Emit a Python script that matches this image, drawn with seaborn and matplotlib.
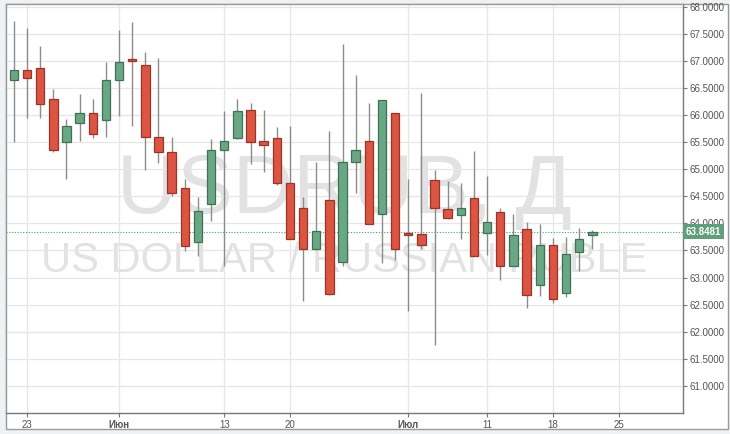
import matplotlib
matplotlib.use("Agg")
import matplotlib.pyplot as plt
import matplotlib.transforms as mtransforms
from matplotlib.patches import Rectangle
import numpy as np
import pandas as pd
import seaborn as sns

# USD/RUB daily candles, 20 May - 21 Jul 2016 (trading days)
dates = pd.bdate_range("2016-05-20", "2016-07-25")
opens = [66.64, 66.83, 66.87, 66.30, 65.51, 65.85, 66.03, 65.91, 66.65, 67.04,
         66.93, 65.59, 65.31, 64.66, 63.66, 64.35, 65.36, 65.57, 66.09, 65.52,
         65.57, 64.74, 64.29, 63.53, 64.44, 63.29, 65.14, 65.53, 64.18, 66.03,
         63.81, 63.80, 64.81, 64.27, 64.15, 64.47, 63.83, 64.21, 63.22, 63.89,
         62.86, 63.61, 62.72, 63.47, 63.78]
highs = [67.73, 67.60, 67.27, 66.49, 65.92, 66.39, 66.30, 66.98, 67.57, 67.71,
         67.17, 67.06, 65.60, 64.82, 64.49, 65.56, 66.07, 66.30, 66.22, 66.09,
         65.78, 65.80, 64.49, 65.13, 65.71, 67.32, 66.74, 66.22, 66.28, 66.04,
         64.82, 66.41, 64.99, 64.79, 64.74, 65.34, 64.87, 64.28, 64.18, 64.03,
         63.99, 63.73, 63.74, 63.92, 63.87]
lows = [65.50, 65.95, 65.95, 65.31, 64.82, 65.52, 65.58, 65.60, 65.99, 65.79,
        64.98, 65.11, 64.50, 63.49, 63.39, 64.04, 63.22, 65.55, 65.09, 64.95,
        64.70, 63.71, 62.56, 63.50, 62.68, 63.21, 64.57, 63.98, 63.27, 63.33,
        62.38, 63.53, 61.75, 64.09, 63.72, 63.40, 63.42, 62.95, 63.22, 62.44,
        62.66, 62.53, 62.64, 63.12, 63.53]
closes = [66.83, 66.69, 66.20, 65.35, 65.80, 66.03, 65.65, 66.65, 66.98, 67.00,
          65.59, 65.31, 64.56, 63.58, 64.23, 65.36, 65.53, 66.08, 65.50, 65.44,
          64.74, 63.72, 63.53, 63.86, 62.69, 65.14, 65.36, 63.99, 66.27, 63.52,
          63.79, 63.61, 64.28, 64.10, 64.29, 63.40, 64.03, 63.22, 63.78, 62.67,
          63.61, 62.61, 63.44, 63.72, 63.8481]
last_price = 63.8481

tick_dates = ["2016-05-23", "2016-06-01", "2016-06-13", "2016-06-20",
              "2016-07-01", "2016-07-11", "2016-07-18", "2016-07-25"]
tick_labels = ["23", "Июн", "13", "20", "Июл", "11", "18", "25"]
y_ticks = [61.0, 61.5, 62.0, 62.5, 63.0, 63.5, 64.0, 64.5, 65.0, 65.5,
           66.0, 66.5, 67.0, 67.5, 68.0]

df = pd.DataFrame({"date": dates[:len(opens)], "open": opens, "high": highs,
                   "low": lows, "close": closes})
df["pos"] = np.arange(len(df))
df["up"] = df["close"] >= df["open"]
df["bottom"] = df[["open", "close"]].min(axis=1)
df["height"] = (df["close"] - df["open"]).abs().clip(lower=0.03)

RED, RED_EDGE = "#dc5442", "#9c3327"
GREEN, GREEN_EDGE = "#6aa784", "#3b7353"

sns.set_theme(style="whitegrid")
plt.rcParams["font.family"] = ["Liberation Sans", "DejaVu Sans"]

fig = plt.figure(figsize=(7.3, 4.34), dpi=100, facecolor="#eef2f5")
W, H = 730, 434
frame = Rectangle((6 / W, 1 - 429 / H), 722 / W, 425 / H,
                  transform=fig.transFigure, facecolor="white",
                  edgecolor="#9a9a9a", lw=1.0, zorder=-10)
fig.patches.append(frame)
ax = fig.add_axes([6 / W, 1 - 413 / H, 677 / W, 409 / H])
ax.set_zorder(1)
ax.set_facecolor("white")

# watermark
ax.text(0.5, 0.49, "USDRUB, Д", transform=ax.transAxes, ha="center",
        va="baseline", fontsize=60, color="#e2e2e2", zorder=0)
ax.text(0.5, 0.345, "US DOLLAR / RUSSIAN RUBLE", transform=ax.transAxes,
        ha="center", va="baseline", fontsize=30, color="#e2e2e2", zorder=0)

# wicks
ax.vlines(df["pos"], df["low"], df["high"], color="#8c8c8c", lw=1.0, zorder=2)
# bodies
for up, fc, ec in [(True, GREEN, GREEN_EDGE), (False, RED, RED_EDGE)]:
    sub = df[df["up"] == up]
    ax.bar(sub["pos"], sub["height"], bottom=sub["bottom"], width=0.64,
           color=fc, edgecolor=ec, linewidth=0.9, zorder=3)

# last price line and label
ax.axhline(last_price, color="#4f9a70", lw=0.8, ls=(0, (1, 1.5)), zorder=1)
trans = mtransforms.blended_transform_factory(ax.transAxes, ax.transData)
ax.text(1.004, last_price, f"{last_price:.4f}", transform=trans, ha="left",
        va="center", fontsize=7, color="white", fontweight="bold", zorder=5,
        bbox=dict(boxstyle="square,pad=0.25", facecolor="#5f9f7b",
                  edgecolor="none"), clip_on=False)

all_pos = {d: i for i, d in enumerate(dates)}
tick_pos = [all_pos[pd.Timestamp(d)] for d in tick_dates]
ax.set_xticks(tick_pos)
ax.set_xticklabels(tick_labels)
for lbl, txt in zip(ax.get_xticklabels(), tick_labels):
    if not txt.isdigit():
        lbl.set_fontweight("bold")
ax.set_xlim(-0.6, 50.9)

ax.set_yticks(y_ticks)
ax.set_yticklabels([f"{v:.4f}" for v in y_ticks])
ax.set_ylim(60.5, 68.05)
ax.yaxis.tick_right()

ax.tick_params(axis="y", which="both", right=True, length=3, width=0.8,
               color="#777777", pad=2, labelsize=7, labelcolor="#555555")
ax.tick_params(axis="x", which="both", bottom=True, length=3, width=0.8,
               color="#777777", pad=2, labelsize=7, labelcolor="#555555")
ax.grid(True, color="#e6e6e6", lw=0.9)
for side in ["left", "top"]:
    ax.spines[side].set_color("#9a9a9a")
    ax.spines[side].set_linewidth(1.0)
for side in ["right", "bottom"]:
    ax.spines[side].set_color("#777777")
    ax.spines[side].set_linewidth(1.0)

fig.savefig("out.png", dpi=100, facecolor=fig.get_facecolor())
